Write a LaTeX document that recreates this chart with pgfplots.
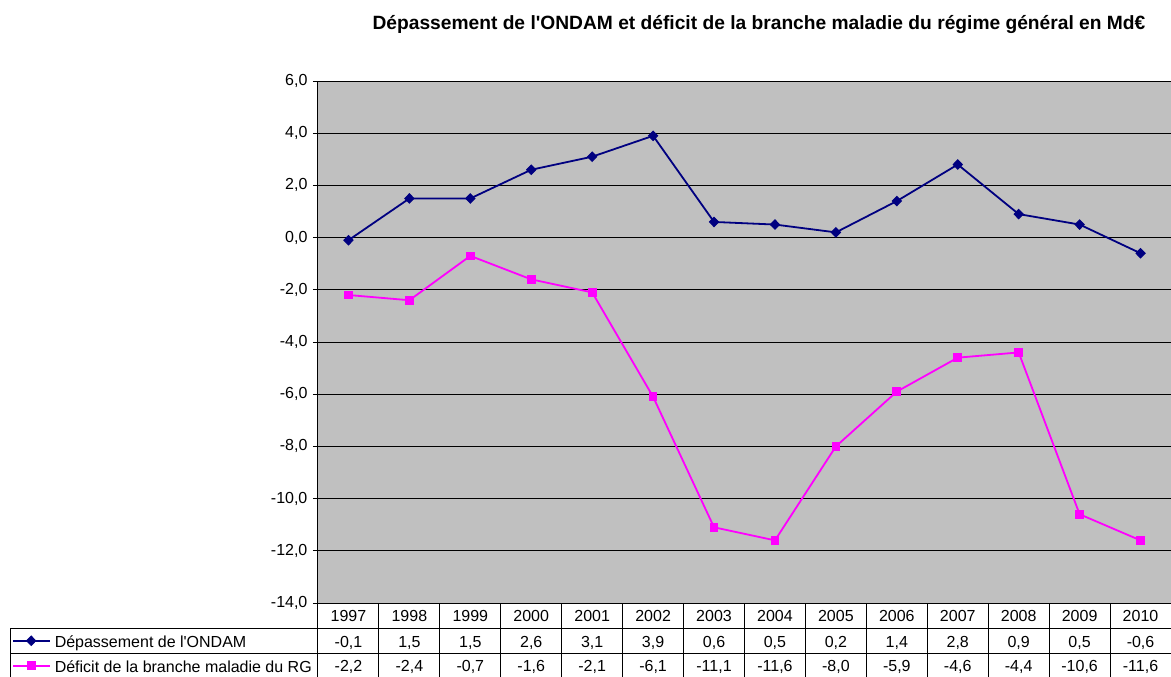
\documentclass[border=0pt]{standalone}
\usepackage{fontspec}
\setmainfont{Liberation Sans}[Ligatures=TeXOff]
\usepackage{pgfplots}
\usepackage{pgfplotstable}
\pgfplotsset{compat=1.18}

\definecolor{ondam}{HTML}{000080}
\definecolor{deficit}{HTML}{FF00FF}
\definecolor{plotbg}{HTML}{C0C0C0}

% x = position of the year, values in Md EUR
\pgfplotstableread{
x  year ondam deficit
0  1997 -0.1  -2.2
1  1998  1.5  -2.4
2  1999  1.5  -0.7
3  2000  2.6  -1.6
4  2001  3.1  -2.1
5  2002  3.9  -6.1
6  2003  0.6 -11.1
7  2004  0.5 -11.6
8  2005  0.2  -8.0
9  2006  1.4  -5.9
10 2007  2.8  -4.6
11 2008  0.9  -4.4
12 2009  0.5 -10.6
13 2010 -0.6 -11.6
}\data

\begin{document}
\fontsize{12}{14}\selectfont
\begin{tikzpicture}[font=\fontsize{12}{14}\selectfont]
\useasboundingbox (0pt,0pt) rectangle (878.25pt,507pt);
\begin{axis}[
    at={(238.5pt,54.75pt)}, anchor=south west,
    scale only axis,
    width=639.75pt, height=391.5pt,
    clip=false,
    xmin=-0.5, xmax=13.5,
    ymin=-14, ymax=6,
    ytick={-14,-12,...,6},
    xtick={0,...,13},
    xticklabels={1997,1998,1999,2000,2001,2002,2003,2004,2005,2006,2007,2008,2009,2010},
    major x tick style={draw=none},
    tick label style={font=\fontsize{12}{14}\selectfont},
    xticklabel style={anchor=base, yshift=-13.9pt, inner sep=0pt},
    ytick align=outside, major tick length=3.75pt,
    ymajorgrids,
    major grid style={black, line width=0.75pt},
    axis line style={black, line width=0.75pt},
    every tick/.style={black, line width=0.75pt},
    axis background/.style={fill=plotbg},
    /pgf/number format/use comma,
    /pgf/number format/fixed,
    /pgf/number format/fixed zerofill,
    /pgf/number format/precision=1,
    /pgf/number format/assume math mode=true,
    title={\bfseries D\'epassement de l'ONDAM et d\'eficit de la branche maladie du r\'egime g\'en\'eral en Md€},
    title style={at={(axis description cs:0.517,1.093)}, anchor=center, inner sep=0pt,
        font=\fontsize{14.4}{17}\selectfont},
    legend image code/.code={%
        \draw[mark repeat=2,mark phase=2] plot coordinates {(0pt,0pt) (13.5pt,0pt) (27.5pt,0pt)};},
    legend style={
        at={(axis description cs:-0.3587,-0.0479)}, anchor=north west,
        draw=none, fill=none, inner sep=0pt, row sep=0pt, column sep=3pt,
        cells={anchor=west}, font=\fontsize{12}{14}\selectfont,
        nodes={inner sep=0pt, text height=14.1pt, text depth=4.65pt},
    },
]
\addplot[ondam, line width=1.35pt, mark=diamond*, mark size=3.5pt,
    mark options={xscale=1.3, line width=0.75pt}] table[x=x, y=ondam] {\data};
\addlegendentry{D\'epassement de l'ONDAM}
\addplot[deficit, line width=1.35pt, mark=square*, mark size=2.9pt,
    mark options={line width=0.75pt}]
    table[x=x, y=deficit] {\data};
\addlegendentry{D\'eficit de la branche maladie du RG}

% values of the data table under the chart
\addplot[forget plot, draw=none, mark=none, point meta=explicit,
    nodes near coords={\pgfmathprintnumber{\pgfplotspointmeta}},
    nodes near coords style={anchor=base, inner sep=0pt, black}]
    table[x=x, y expr=-15.71, meta=ondam] {\data};
\addplot[forget plot, draw=none, mark=none, point meta=explicit,
    nodes near coords={\pgfmathprintnumber{\pgfplotspointmeta}},
    nodes near coords style={anchor=base, inner sep=0pt, black}]
    table[x=x, y expr=-16.64, meta=deficit] {\data};

% grid of the data table
\pgfplotsinvokeforeach{-0.5,0.5,...,13.5}{
    \draw[black, line width=0.75pt] (axis cs:#1,-14) -- (axis cs:#1,-16.9);
}
\draw[black, line width=0.75pt] (axis cs:-5.555,-14.98) -- (axis cs:13.5,-14.98);
\draw[black, line width=0.75pt] (axis cs:-5.555,-15.94) -- (axis cs:13.5,-15.94);
\draw[black, line width=0.75pt] (axis cs:-5.555,-14.98) -- (axis cs:-5.555,-16.9);
\end{axis}
\end{tikzpicture}
\end{document}
